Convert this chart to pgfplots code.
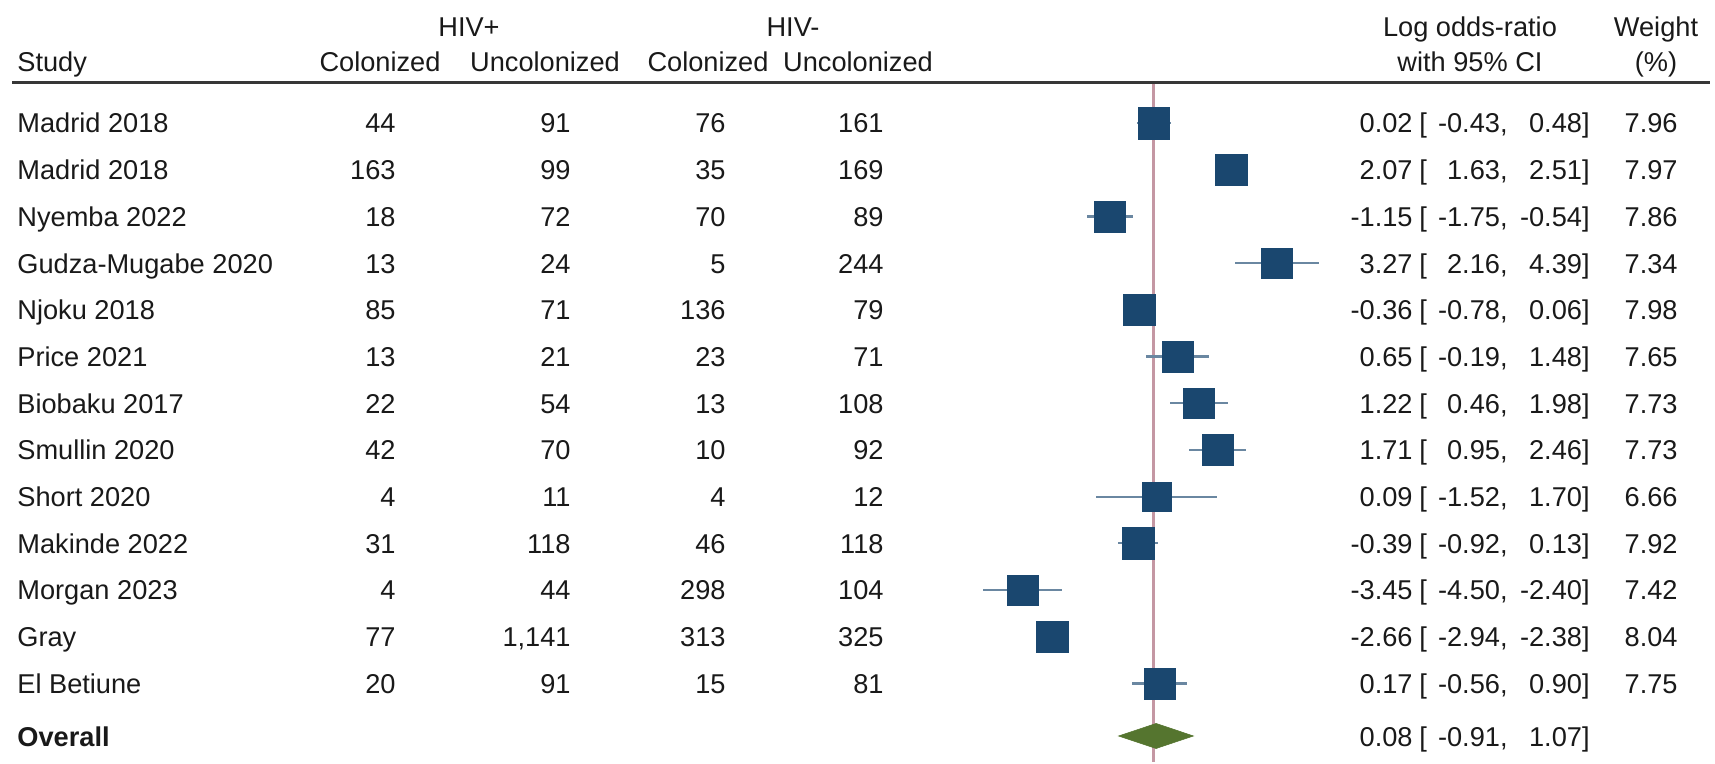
\documentclass[border=0pt]{standalone}
\usepackage{fontspec}
\setmainfont{Liberation Sans}
\usepackage{pgfplots}
\pgfplotsset{compat=1.18}
\usepackage{pgfplotstable}

\definecolor{stnavy}{RGB}{26,71,111}
\definecolor{stgreen}{RGB}{85,117,47}
\definecolor{refpink}{RGB}{196,151,163}
\definecolor{rulegray}{RGB}{55,55,55}
\definecolor{txt}{RGB}{25,25,25}

% r = row, est = log odds-ratio, lo/hi = 95% CI, w = weight (%)
\pgfplotstableread{
r  est    lo     hi     w
1   0.02  -0.43   0.48  7.96
2   2.07   1.63   2.51  7.97
3  -1.15  -1.75  -0.54  7.86
4   3.27   2.16   4.39  7.34
5  -0.36  -0.78   0.06  7.98
6   0.65  -0.19   1.48  7.65
7   1.22   0.46   1.98  7.73
8   1.71   0.95   2.46  7.73
9   0.09  -1.52   1.70  6.66
10 -0.39  -0.92   0.13  7.92
11 -3.45  -4.50  -2.40  7.42
12 -2.66  -2.94  -2.38  8.04
13  0.17  -0.56   0.90  7.75
}\studies

\begin{document}
\begin{tikzpicture}
\begin{axis}[
    at={(0,0)}, anchor=south west,
    scale only axis,
    width=857.5pt, height=381pt,
    hide axis, clip=false,
    xmin=-30.503, xmax=14.868,
    ymin=-1.634, ymax=14.683,
    y dir=reverse,
]
% line of no effect
\addplot[refpink, line width=1.5pt] coordinates {(0,0.1435) (0,14.683)};
% confidence intervals
\addplot[draw=none, forget plot,
    error bars/.cd, x dir=both, x explicit, error mark=none,
    error bar style={line width=1.1pt, stnavy!65}]
    table[x=est, y=r,
          x error plus expr=\thisrow{hi}-\thisrow{est},
          x error minus expr=\thisrow{est}-\thisrow{lo}] {\studies};
% study boxes, size by weight
\addplot[scatter, only marks, mark=square*,
    scatter/use mapped color={draw=stnavy, fill=stnavy},
    mark options={line width=0.2pt},
    visualization depends on={7.9*sqrt(\thisrow{w}/8.04) \as \msz},
    scatter/@pre marker code/.append style={/tikz/mark size=\msz pt}]
    table[x=est, y=r] {\studies};
% overall diamond
\addplot[fill=stgreen, draw=stgreen, line width=0.3pt]
    coordinates {(-0.91,14.126) (0.08,13.858) (1.07,14.126) (0.08,14.394)} -- cycle;
\end{axis}

\begin{scope}[yshift=381pt, x=0.5pt, y=-0.5pt,
    every node/.style={font=\fontsize{13.6pt}{16pt}\selectfont, text=txt, inner sep=0pt}]
\path (0,0) rectangle (1715,762);
\draw[rulegray, line width=1.5pt] (12,83) -- (1710,83);

\node[anchor=base] at (469,37) {HIV+};
\node[anchor=base] at (793,37) {HIV-};
\node[anchor=base west] at (17,72) {Study};
\node[anchor=base] at (380,72) {Colonized};
\node[anchor=base] at (545,72) {Uncolonized};
\node[anchor=base] at (708,72) {Colonized};
\node[anchor=base] at (858,72) {Uncolonized};
\node[anchor=base] at (1470,37) {Log odds-ratio};
\node[anchor=base] at (1470,72) {with 95\% CI};
\node[anchor=base] at (1656,37) {Weight};
\node[anchor=base] at (1656,72) {(\%)};

\foreach \k/\name/\a/\b/\c/\d/\e/\lo/\hi/\w in {
  1/Madrid 2018/44/91/76/161/0.02/-0.43/0.48/7.96,
  2/Madrid 2018/163/99/35/169/2.07/1.63/2.51/7.97,
  3/Nyemba 2022/18/72/70/89/-1.15/-1.75/-0.54/7.86,
  4/Gudza-Mugabe 2020/13/24/5/244/3.27/2.16/4.39/7.34,
  5/Njoku 2018/85/71/136/79/-0.36/-0.78/0.06/7.98,
  6/Price 2021/13/21/23/71/0.65/-0.19/1.48/7.65,
  7/Biobaku 2017/22/54/13/108/1.22/0.46/1.98/7.73,
  8/Smullin 2020/42/70/10/92/1.71/0.95/2.46/7.73,
  9/Short 2020/4/11/4/12/0.09/-1.52/1.70/6.66,
  10/Makinde 2022/31/118/46/118/-0.39/-0.92/0.13/7.92,
  11/Morgan 2023/4/44/298/104/-3.45/-4.50/-2.40/7.42,
  12/Gray/77/{1,141}/313/325/-2.66/-2.94/-2.38/8.04,
  13/El Betiune/20/91/15/81/0.17/-0.56/0.90/7.75} {
  \pgfmathsetmacro\yy{133+46.7*(\k-1)}
  \node[anchor=base west] at (17,\yy) {\name};
  \node[anchor=base east] at (396,\yy) {\a};
  \node[anchor=base east] at (571,\yy) {\b};
  \node[anchor=base east] at (726,\yy) {\c};
  \node[anchor=base east] at (884,\yy) {\d};
  \node[anchor=base east] at (1413,\yy) {\e};
  \node[anchor=base west] at (1419,\yy) {[};
  \node[anchor=base east] at (1508,\yy) {\lo,};
  \node[anchor=base east] at (1590,\yy) {\hi]};
  \node[anchor=base east] at (1678,\yy) {\w};
}

\node[anchor=base west] at (17,747) {\textbf{Overall}};
\node[anchor=base east] at (1413,747) {0.08};
\node[anchor=base west] at (1419,747) {[};
\node[anchor=base east] at (1508,747) {-0.91,};
\node[anchor=base east] at (1590,747) {1.07]};
\end{scope}
\end{tikzpicture}
\end{document}
